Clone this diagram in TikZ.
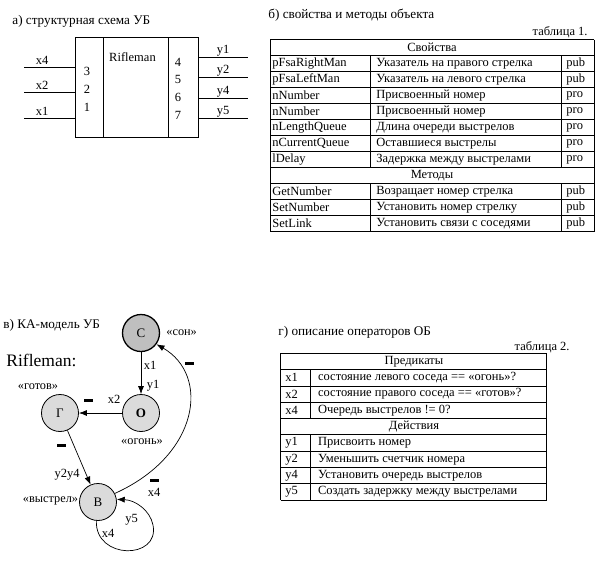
\documentclass[tikz,border=0pt]{standalone}
\usepackage{fontspec}
\setmainfont{Liberation Serif}
\usetikzlibrary{arrows.meta}
\tikzset{
  txt/.style={inner sep=0pt,font=\fontsize{12.5}{14}\selectfont},
  cell/.style={txt,anchor=west},
  title/.style={cell,font=\fontsize{13.2}{15}\selectfont},
  quote/.style={inner sep=0pt,font=\fontsize{12.3}{13}\selectfont},
  state/.style={circle,draw,fill=gray!28,minimum size=37pt,inner sep=0pt,font=\fontsize{13}{14}\selectfont},
  sleep/.style={state,fill=gray!50,line width=1.3pt},
  bar/.style={fill=black,minimum width=9pt,minimum height=3pt,inner sep=0pt},
  arr/.style={-{Latex[length=8pt,width=6pt]},line width=0.7pt}
}
\begin{document}
\begin{tikzpicture}[x=1pt,y=-1pt,line width=0.8pt]
\useasboundingbox[fill=white] (0,0) rectangle (599,560);
% a) structure scheme
\node[title] (ta) at (12,21) {а) структурная схема УБ};
\draw (75.7,37.7) rectangle (198,137.7);
\draw (103.3,37.7) -- (103.3,137.7);
\draw (168.3,37.7) -- (168.3,137.7);
\node[txt] (rif) at (132.5,57) {Rifleman};
\foreach \y/\lbl/\n/\ny in {67.3/x4/3/71,92.3/x2/2/89.3,118.3/x1/1/107.7} {
  \draw (24,\y) -- (75.7,\y);
  \node[txt] (in\n) at (42,\y-6.5) {\lbl};
  \node[txt] (pin\n) at (87,\ny) {\n};
}
\foreach \y/\lbl/\n/\ny in {57.3/y1/4/62,77.3/y2/5/79.3,98.3/y4/6/97.7,118.3/y5/7/115} {
  \draw (198,\y) -- (248,\y);
  \node[txt] (out\n) at (223,\y-7) {\lbl};
  \node[txt] (pin\n) at (178,\ny) {\n};
}
% b) properties and methods
\node[title] (tb) at (268,15) {б) свойства и методы объекта};
\node[txt,anchor=east] (tab1) at (588,32) {таблица 1.};
\foreach \k in {0,...,12} \draw (270,{39.5+16*\k}) -- (594,{39.5+16*\k});
\draw (270,39.5) -- (270,231.5);
\draw (594,39.5) -- (594,231.5);
\foreach \x in {370,561.7} {
  \draw (\x,55.5) -- (\x,167.5);
  \draw (\x,183.5) -- (\x,231.5);
}
\node[txt] (h1) at (432,47.5) {Свойства};
\node[txt] (h2) at (432,175.5) {Методы};
\foreach \i/\a/\b/\c in {1/pFsaRightMan/Указатель на правого стрелка/pub,
  2/pFsaLeftMan/Указатель на левого стрелка/pub,
  3/nNumber/Присвоенный номер/pro,
  4/nNumber/Присвоенный номер/pro,
  5/nLengthQueue/Длина очереди выстрелов/pro,
  6/nCurrentQueue/Оставшиеся выстрелы/pro,
  7/lDelay/Задержка между выстрелами/pro,
  9/GetNumber/Возращает номер стрелка/pub,
  10/SetNumber/Установить номер стрелку/pub,
  11/SetLink/Установить связи с соседями/pub} {
  \node[cell] (pa\i) at (272,{47.5+16*\i}) {\a};
  \node[cell] (pb\i) at (376,{47.5+16*\i}) {\b};
  \node[cell] (pc\i) at (566,{47.5+16*\i}) {\c};
}
% v) automaton model
\node[title] (tv) at (3,325) {в) КА-модель УБ};
\node[cell,font=\fontsize{17.5}{19}\selectfont] (rname) at (6,360) {Rifleman:};
\node[sleep] (S) at (141,333) {С};
\node[state] (O) at (141,413) {\textbf{О}};
\node[state] (G) at (60,413) {Г};
\node[state] (V) at (98,502) {В};
\node[quote,anchor=west] (qS) at (166,333) {«сон»};
\node[quote] (qG) at (38,387) {«готов»};
\node[quote] (qO) at (142,442) {«огонь»};
\node[quote,anchor=east] (qV) at (78.5,501) {«выстрел»};
\draw[arr] (S) -- (O);
\draw[arr] (O) -- (G);
\draw[arr] (G) -- (V);
\draw[arr] (V.27) .. controls (200,455) and (210,375) .. (S.-36);
\draw[arr] (V.-95) .. controls (95,560) and (160,560) .. (153,525)
  .. controls (150,510) and (135,500) .. (V.8);
\node[txt] (c1) at (150,365) {x1};
\node[txt] (a1) at (153,386) {y1};
\node[txt] (c2) at (114,399) {x2};
\node[bar] (a2) at (88.5,400) {};
\node[bar] (c3) at (61.5,445) {};
\node[txt] (a3) at (67,475) {y2y4};
\node[bar] (a4) at (189,363) {};
\node[txt] (c4) at (154,492.5) {x4};
\node[bar] (c4n) at (154,480) {};
\node[txt] (c5) at (108,533) {x4};
\node[txt] (a5) at (131.7,520) {y5};
% g) operators
\node[title] (tg) at (278,332) {г) описание операторов ОБ};
\node[txt,anchor=east] (tab2) at (570,347) {таблица 2.};
\foreach \k in {0,...,9} \draw (280.7,{353.3+16.3*\k}) -- (546.7,{353.3+16.3*\k});
\draw (280.7,353.3) -- (280.7,500);
\draw (546.7,353.3) -- (546.7,500);
\draw (310.7,369.6) -- (310.7,418.5);
\draw (310.7,434.8) -- (310.7,500);
\node[txt] (h3) at (414,361.5) {Предикаты};
\node[txt] (h4) at (414,426.7) {Действия};
\foreach \i/\a/\b in {1/x1/состояние левого соседа == «огонь»?,
  2/x2/состояние правого соседа == «готов»?,
  3/x4/Очередь выстрелов != 0?,
  5/y1/Присвоить номер,
  6/y2/Уменьшить счетчик номера,
  7/y4/Установить очередь выстрелов,
  8/y5/Создать задержку между выстрелами} {
  \node[cell] (oa\i) at (285,{361.5+16.3*\i}) {\a};
  \node[cell] (ob\i) at (317.7,{361.5+16.3*\i}) {\b};
}
\end{tikzpicture}
\end{document}
